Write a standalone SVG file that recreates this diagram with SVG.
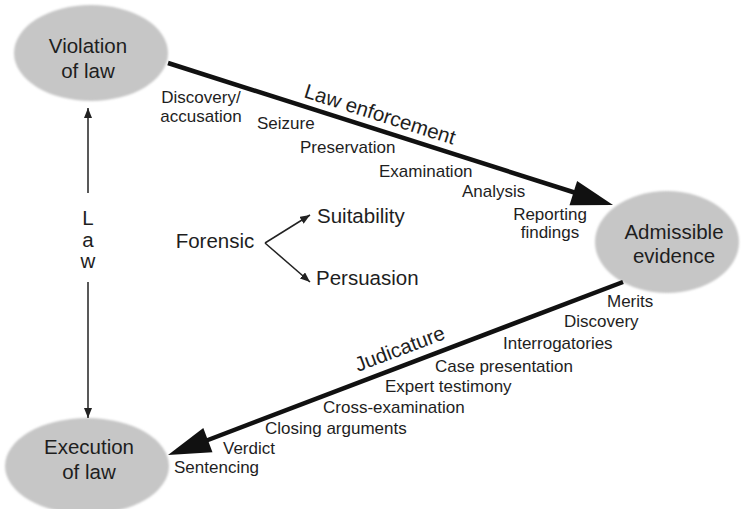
<svg xmlns="http://www.w3.org/2000/svg" width="741" height="509" viewBox="0 0 741 509">
<style>
  .node { fill: #c6c6c6; filter: url(#soft); }
  .big { font-family: "Liberation Sans", Arial, sans-serif; font-size: 20.5px; fill: #1e1e1e; text-anchor: middle; }
  .small { font-family: "Liberation Sans", Arial, sans-serif; font-size: 17px; fill: #1e1e1e; }
  .mid { text-anchor: middle; }
  .thick { stroke: #111; stroke-width: 4.5; fill: none; }
  .thin { stroke: #222; stroke-width: 1.5; fill: none; }
  .head { fill: #111; }
</style>
<defs>
  <filter id="soft" x="-10%" y="-10%" width="120%" height="120%">
    <feGaussianBlur stdDeviation="1"/>
  </filter>
  <marker id="sm" viewBox="0 0 10 8" refX="10" refY="4" markerWidth="10" markerHeight="8" markerUnits="userSpaceOnUse" orient="auto">
    <path d="M0,0 L10,4 L0,8 z" fill="#222"/>
  </marker>
</defs>
<rect width="741" height="509" fill="#ffffff"/>

<g id="violation">
  <ellipse class="node" cx="91" cy="53" rx="77" ry="48"/>
  <text class="big" x="88" y="53">Violation</text>
  <text class="big" x="88" y="78">of law</text>
</g>

<g id="admissible">
  <ellipse class="node" cx="667" cy="242" rx="72" ry="51"/>
  <text class="big" x="674" y="239">Admissible</text>
  <text class="big" x="674" y="263">evidence</text>
</g>

<g id="execution">
  <ellipse class="node" cx="87" cy="466" rx="82" ry="48"/>
  <text class="big" x="89" y="454">Execution</text>
  <text class="big" x="89" y="479">of law</text>
</g>

<g id="forensic">
  <text class="big" x="215" y="248">Forensic</text>
  <text class="big" x="317" y="223" style="text-anchor:start">Suitability</text>
  <text class="big" x="316" y="285" style="text-anchor:start">Persuasion</text>
</g>

<g id="connectors">
  <!-- Law enforcement -->
  <line class="thick" x1="168" y1="63" x2="576" y2="193"/>
  <polygon class="head" points="613,205 569.5,205.3 577.1,181.1"/>
  <!-- Judicature -->
  <line class="thick" x1="623" y1="282" x2="204" y2="441.5"/>
  <polygon class="head" points="168,455 212.5,452.2 203.3,428.0"/>
  <!-- Law -->
  <line class="thin" x1="88" y1="193" x2="88" y2="108" marker-end="url(#sm)"/>
  <line class="thin" x1="88" y1="282" x2="88" y2="418" marker-end="url(#sm)"/>
  <!-- Forensic -->
  <line class="thin" x1="265" y1="243" x2="310" y2="215" marker-end="url(#sm)"/>
  <line class="thin" x1="265" y1="243" x2="310" y2="282" marker-end="url(#sm)"/>
</g>

<g id="law-label">
  <text class="big" x="88" y="225">L</text>
  <text class="big" x="88" y="247">a</text>
  <text class="big" x="88" y="268">w</text>
</g>

<g id="law-enforcement-labels">
  <text class="big" x="0" y="0" style="text-anchor:start" transform="translate(303,97) rotate(17.7)">Law enforcement</text>
  <text class="small mid" x="201" y="103">Discovery/</text>
  <text class="small mid" x="201" y="122">accusation</text>
  <text class="small" x="257" y="129">Seizure</text>
  <text class="small" x="300" y="153">Preservation</text>
  <text class="small" x="379" y="177">Examination</text>
  <text class="small" x="462" y="197">Analysis</text>
  <text class="small mid" x="550" y="220">Reporting</text>
  <text class="small mid" x="550" y="238">findings</text>
</g>

<g id="judicature-labels">
  <text class="big" x="0" y="0" style="text-anchor:start" transform="translate(358,372) rotate(-20.8)">Judicature</text>
  <text class="small" x="607" y="307">Merits</text>
  <text class="small" x="564" y="327">Discovery</text>
  <text class="small" x="503" y="349">Interrogatories</text>
  <text class="small" x="435" y="372">Case presentation</text>
  <text class="small" x="385" y="392">Expert testimony</text>
  <text class="small" x="323" y="413">Cross-examination</text>
  <text class="small" x="265" y="434">Closing arguments</text>
  <text class="small" x="223" y="454">Verdict</text>
  <text class="small" x="174" y="473">Sentencing</text>
</g>
</svg>
